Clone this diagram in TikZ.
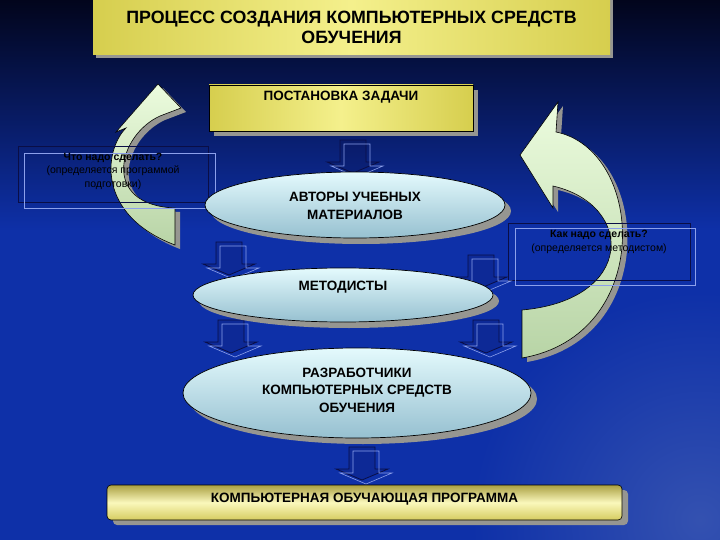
\documentclass[tikz,border=0pt]{standalone}
\usepackage{fontspec}
\setmainfont{Liberation Sans}
\usetikzlibrary{shapes.geometric,shadows}
\definecolor{bgtop}{RGB}{2,5,28}
\definecolor{bgbot}{RGB}{14,48,168}
\definecolor{bglight}{RGB}{90,115,185}
\definecolor{tyl}{RGB}{244,240,140}
\definecolor{tyd}{RGB}{214,206,78}
\definecolor{bbtop}{RGB}{170,160,66}
\definecolor{bbmid}{RGB}{250,248,188}
\definecolor{bbbot}{RGB}{214,204,96}
\definecolor{elltop}{RGB}{228,250,253}
\definecolor{ellbot}{RGB}{150,192,208}
\definecolor{shgrey}{RGB}{150,150,145}
\definecolor{arrtop}{RGB}{236,252,222}
\definecolor{arrbot}{RGB}{184,212,166}
\definecolor{blkdark}{RGB}{10,14,70}
\definecolor{blklight}{RGB}{140,160,235}
\newcommand\ttlfont{\fontsize{17.8}{20}\selectfont\bfseries}
\newcommand\mainfont{\fontsize{13.5}{17.5}\selectfont\bfseries}
\newcommand\smallfont{\fontsize{10.5}{13.5}\selectfont}
\tikzset{
  every node/.style={inner sep=0pt, outer sep=0pt},
  ybox/.style={draw=black, line width=0.6pt, left color=tyd, right color=tyd, middle color=tyl,
    general shadow={fill=shgrey, shadow xshift=5pt, shadow yshift=-5pt}},
  ellnode/.style={ellipse, draw=black, line width=0.7pt, top color=elltop, bottom color=ellbot,
    general shadow={fill=shgrey, shadow xshift=6pt, shadow yshift=-6pt}},
  darkframe/.style={draw=blkdark, line width=0.8pt},
  lightframe/.style={draw=blklight, line width=0.6pt},
  curvarrow/.style={draw=black, line width=0.6pt, top color=arrtop, bottom color=arrbot},
  blockarrow/.pic={
    \path[fill=blkdark, fill opacity=0.18] (-13,0) -- (13,0) -- (13,22) -- (26,22) -- (0,33) -- (-26,22) -- (-13,22) -- cycle;
    \draw[blkdark, line width=0.8pt] (-13,0) -- (13,0) -- (13,22) -- (26,22) -- (0,33) -- (-26,22) -- (-13,22) -- cycle;
    \draw[blklight, line width=0.6pt, shift={(4,4)}] (-13,0) -- (13,0) -- (13,22) -- (26,22) -- (0,33) -- (-26,22) -- (-13,22) -- cycle;
  }
}
\begin{document}
\begin{tikzpicture}[x=1pt,y=-1pt]
\useasboundingbox (0,0) rectangle (720,540);
% background
\fill[bgbot] (0,0) rectangle (720,540);
\shade[top color=bgtop, bottom color=bgbot] (0,0) rectangle (720,230);
\shade[inner color=bglight, outer color=bgbot, opacity=0.5] (700,520) circle (230);

% title
\node[left color=tyd, right color=tyd, middle color=tyl, minimum width=517, minimum height=62,
  general shadow={fill=shgrey, shadow xshift=3pt, shadow yshift=-3pt}] (title) at (351.5,24) {};
\node[font=\ttlfont, align=center] (titletext) at (351.5,27) {ПРОЦЕСС СОЗДАНИЯ КОМПЬЮТЕРНЫХ СРЕДСТВ\\ОБУЧЕНИЯ};

% task box
\node[ybox, minimum width=264, minimum height=46] (task) at (341,108) {};
\node[font=\mainfont] (tasktext) at (341,97) {ПОСТАНОВКА ЗАДАЧИ};

% left curved arrow
\fill[shgrey, shift={(5,4)}] (158,84) -- (181,108) -- (160,116) .. controls (118,135) and (100,205) .. (175,208) -- (175,245) .. controls (96,215) and (104,150) .. (126,128) -- (116,132) -- cycle;
\path[curvarrow] (158,84) -- (181,108) -- (160,116) .. controls (118,135) and (100,205) .. (175,208) -- (175,245) .. controls (96,215) and (104,150) .. (126,128) -- (116,132) -- cycle;

% right curved arrow
\fill[shgrey, shift={(5,4)}] (520,155) -- (558,102) -- (556,132) .. controls (645,150) and (655,335) .. (522,358) -- (522,310) .. controls (635,300) and (635,205) .. (553,186) -- (553,208) -- cycle;
\path[curvarrow] (520,155) -- (558,102) -- (556,132) .. controls (645,150) and (655,335) .. (522,358) -- (522,310) .. controls (635,300) and (635,205) .. (553,186) -- (553,208) -- cycle;

% side boxes
\node[darkframe, minimum width=190, minimum height=56] (whatbox) at (113,174) {};
\node[lightframe, minimum width=191, minimum height=55] (whatboxl) at (119.5,180.5) {};
\node[font=\smallfont, align=center, text=black] (whattext) at (113,171)
  {\textbf{Что надо сделать?}\\(определяется программой\\подготовки)};
\node[darkframe, minimum width=182, minimum height=57] (howbox) at (599,251.5) {};
\node[lightframe, minimum width=180, minimum height=57] (howboxl) at (605,256.5) {};
\node[font=\smallfont, align=center, text=black] (howtext) at (599,242)
  {\textbf{Как надо сделать?}\\(определяется методистом)};

% block arrows
\pic (ba1) at (353,140) {blockarrow};
\pic (ba2) at (229,242) {blockarrow};
\pic (ba3) at (481,255) {blockarrow};
\pic (ba4) at (231,320) {blockarrow};
\pic (ba5) at (486,320) {blockarrow};
\pic (ba6) at (362,447) {blockarrow};

% ellipses
\node[ellnode, minimum width=300, minimum height=66] (authors) at (355,205) {};
\node[font=\mainfont, align=center] (authorstext) at (355,206) {АВТОРЫ УЧЕБНЫХ\\МАТЕРИАЛОВ};
\node[ellnode, minimum width=300, minimum height=54] (methods) at (343,295) {};
\node[font=\mainfont] (methodstext) at (343,287) {МЕТОДИСТЫ};
\node[ellnode, minimum width=348, minimum height=90] (devs) at (357,393) {};
\node[font=\mainfont, align=center] (devstext) at (357,390) {РАЗРАБОТЧИКИ\\КОМПЬЮТЕРНЫХ СРЕДСТВ\\ОБУЧЕНИЯ};

% bottom bar
\node[draw=black, line width=0.6pt, rounded corners=4pt, top color=bbtop, bottom color=bbbot, middle color=bbmid,
  minimum width=515, minimum height=35,
  general shadow={fill=shgrey, shadow xshift=6pt, shadow yshift=-5pt}] (program) at (364.5,502.5) {};
\node[font=\mainfont] (programtext) at (364.5,499) {КОМПЬЮТЕРНАЯ ОБУЧАЮЩАЯ ПРОГРАММА};
\end{tikzpicture}
\end{document}
